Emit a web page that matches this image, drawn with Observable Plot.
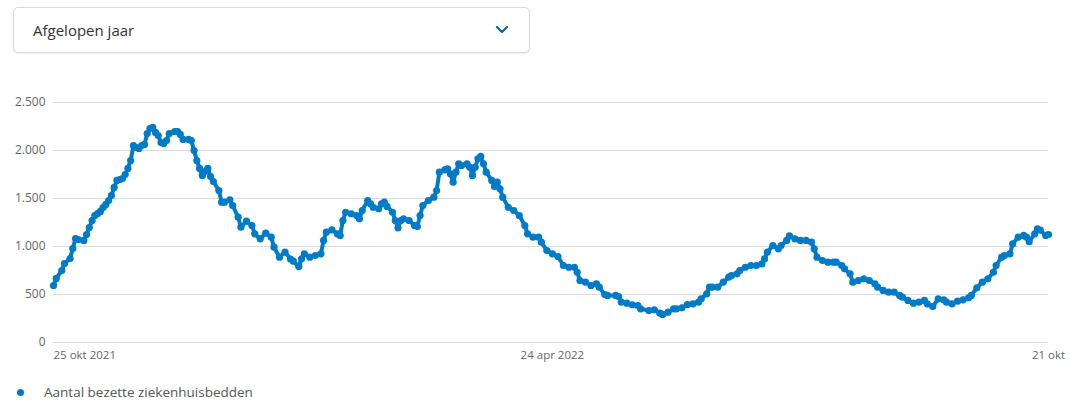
<!DOCTYPE html>
<html>
<head>
<meta charset="utf-8">
<script src="https://cdn.jsdelivr.net/npm/d3@7"></script>
<script src="https://cdn.jsdelivr.net/npm/@observablehq/plot@0.6"></script>
<style>
  html, body { margin: 0; padding: 0; background: #fff; width: 1069px; height: 401px; overflow: hidden; font-family: "Open Sans", sans-serif; }
  #dropdown { position: absolute; left: 13px; top: 7px; width: 515px; height: 44px; border: 1px solid #d9d9d9; border-radius: 5px; box-shadow: 0 1px 2px rgba(0,0,0,0.08); background: #fff; }
  #dropdown .label { position: absolute; left: 19px; top: 0; line-height: 44px; font-size: 15px; color: #333; }
  #dropdown svg { position: absolute; left: 481px; top: 16px; }
  #chart { position: absolute; left: 0; top: 90px; }
  #legend { position: absolute; left: 15px; top: 382px; font-size: 13.5px; color: #555; line-height: 20px; display: flex; align-items: center; }
  #legend .dot { width: 7px; height: 7px; border-radius: 50%; background: #007bc7; margin-right: 20px; margin-left: 2px; }
</style>
</head>
<body>
<div id="dropdown"><span class="label">Afgelopen jaar</span>
  <svg width="14" height="12"><polyline points="2,3 7,8 12,3" fill="none" stroke="#01689b" stroke-width="2.2" stroke-linecap="round" stroke-linejoin="round"/></svg>
</div>
<div id="chart"></div>
<div id="legend"><span class="dot"></span><span>Aantal bezette ziekenhuisbedden</span></div>
<script>
const startDate = "2021-10-25";
const endDate = "2022-10-21";
// days since 25 okt 2021
const dayOffsets = [
  0,1,3,4,6,7,8,9,11,12,13,14,15,16,17,18,19,20,21,22,23,24,25,26,27,28,29,30,31,32,33,34,35,36,37,38,39,40,41,42,44,45,46,47,49,50,51,52,53,54,55,56,57,58,60,61,62,64,65,67,68,70,72,73,75,77,79,80,82,84,86,87,89,
  90,91,93,95,97,98,99,101,103,104,105,106,108,110,111,112,114,115,116,118,119,120,121,123,124,125,126,127,129,131,132,133,134,136,138,139,140,142,143,144,145,146,147,148,150,151,152,153,154,155,156,157,159,160,161,162,163,165,167,169,171,172,174,176,177,179,
  181,183,185,187,189,190,191,193,195,197,198,200,201,204,205,206,208,210,212,213,216,218,220,221,223,225,226,228,230,232,234,235,237,238,239,241,243,245,246,248,249,251,253,255,257,258,259,261,263,264,266,267,269,271,
  273,275,276,277,279,281,283,284,286,287,289,290,292,294,296,298,299,301,303,305,307,308,310,312,314,316,317,319,321,323,324,326,328,330,332,333,335,337,339,341,342,344,345,347,348,350,352,353,354,356,357,358,360,361
];
const bedCounts = [
  594,667,750,823,875,979,1083,1073,1063,1125,1198,1271,1323,1344,1365,1406,1438,1479,1531,1615,1688,1698,1708,1750,1813,1896,2052,2031,2021,2052,2063,2177,2229,2240,2188,2156,2083,2073,2104,2177,2198,2198,2167,2115,2115,2104,2000,1896,1813,1740,1781,1813,1729,1677,1583,1462,1462,1486,1427,1305,1201,1264,1219,1132,1080,1139,1097,993,889,941,870,847,792,
  872,924,889,906,924,1063,1149,1174,1132,1115,1271,1357,1341,1323,1289,1375,1479,1445,1409,1393,1445,1462,1417,1357,1271,1195,1271,1289,1271,1219,1208,1323,1427,1479,1514,1583,1774,1798,1809,1757,1670,1774,1861,1844,1861,1826,1740,1826,1913,1938,1861,1774,1688,1625,1670,1601,1514,1409,1375,1323,1219,1132,1097,1097,1045,958,
  924,896,802,784,784,732,646,628,594,611,576,500,490,490,479,420,410,393,385,351,333,340,305,292,316,351,351,361,396,403,420,455,507,576,576,576,628,680,698,715,750,784,802,802,819,872,941,1010,976,1010,1063,1110,1080,1063,
  1063,1045,976,889,854,837,837,837,802,767,715,628,646,663,646,611,576,542,524,524,490,472,438,410,420,438,403,375,455,445,420,403,430,445,466,490,570,628,663,732,802,889,906,924,1028,1097,1115,1097,1050,1132,1184,1170,1115,1125
];
const yTicks = [0, 500, 1000, 1500, 2000, 2500];
const xTickDates = ["2021-10-25", "2022-04-24", "2022-10-21"];
const xTickLabels = ["25 okt 2021", "24 apr 2022", "21 okt"];

const start = new Date(startDate + "T00:00:00Z");
const data = dayOffsets.map((d, i) => ({date: d3.utcDay.offset(start, d), value: bedCounts[i]}));
const nl = d3.formatLocale({decimal: ",", thousands: ".", grouping: [3], currency: ["€", ""]});
const fmt = nl.format(",");
const tickDates = xTickDates.map(s => new Date(s + "T00:00:00Z"));
const labelOf = d => xTickLabels[tickDates.findIndex(t => +t === +d)];
const blue = "#007bc7";
const axisStyle = {tickSize: 0, tickPadding: 8, fontSize: 11.5, fill: "#666", label: null, tickFormat: labelOf};

const chart = Plot.plot({
  width: 1069,
  height: 282,
  marginLeft: 53,
  marginRight: 21,
  marginTop: 12,
  marginBottom: 30,
  style: {fontFamily: "Open Sans, sans-serif", background: "transparent", overflow: "visible"},
  x: {type: "utc", domain: [start, new Date(endDate + "T00:00:00Z")]},
  y: {domain: [0, 2500]},
  marks: [
    Plot.ruleY(yTicks, {stroke: "#dcdcdc", strokeWidth: 1}),
    Plot.axisY(yTicks, {tickSize: 0, tickPadding: 8, fontSize: 12, fill: "#666", label: null, tickFormat: fmt}),
    Plot.axisX([tickDates[0]], {...axisStyle, textAnchor: "start"}),
    Plot.axisX([tickDates[1]], {...axisStyle, textAnchor: "middle"}),
    Plot.axisX([tickDates[2]], {...axisStyle, textAnchor: "middle"}),
    Plot.line(data, {x: "date", y: "value", stroke: blue, strokeWidth: 4, strokeLinejoin: "round", strokeLinecap: "round"}),
    Plot.dot(data, {x: "date", y: "value", fill: blue, r: 3.6})
  ]
});
document.getElementById("chart").append(chart);
</script>
</body>
</html>
